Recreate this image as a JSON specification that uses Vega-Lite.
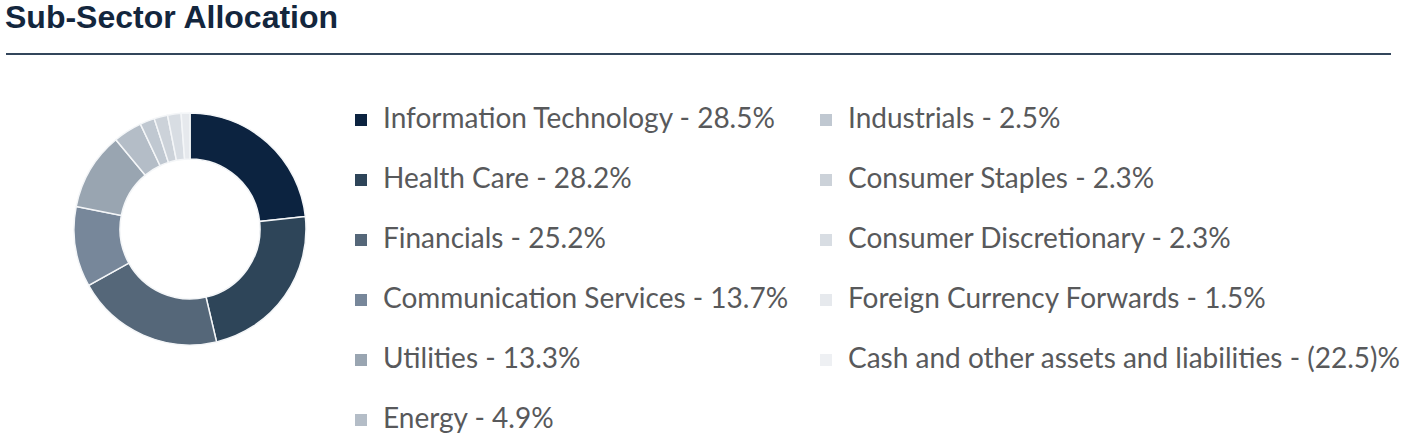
{
  "$schema": "https://vega.github.io/schema/vega-lite/v6.json",
  "padding": {"left": 5, "top": 2, "right": 0, "bottom": 0},
  "background": "white",
  "title": {
    "text": "Sub-Sector Allocation",
    "anchor": "start",
    "font": "Liberation Sans",
    "fontSize": 32,
    "fontWeight": "bold",
    "color": "#13263d",
    "offset": 18
  },
  "config": {
    "view": {"stroke": null},
    "concat": {"spacing": 20}
  },
  "vconcat": [
    {
      "width": 1385,
      "height": 0,
      "data": {"values": [{}]},
      "mark": {"type": "rule", "color": "#33465b", "strokeWidth": 2},
      "encoding": {"y": {"value": 0}}
    },
    {
      "width": 368,
      "height": 270,
      "data": {
        "values": [
          {"sector": "Information Technology", "weight": 28.5, "label": "Information Technology - 28.5%"},
          {"sector": "Health Care", "weight": 28.2, "label": "Health Care - 28.2%"},
          {"sector": "Financials", "weight": 25.2, "label": "Financials - 25.2%"},
          {"sector": "Communication Services", "weight": 13.7, "label": "Communication Services - 13.7%"},
          {"sector": "Utilities", "weight": 13.3, "label": "Utilities - 13.3%"},
          {"sector": "Energy", "weight": 4.9, "label": "Energy - 4.9%"},
          {"sector": "Industrials", "weight": 2.5, "label": "Industrials - 2.5%"},
          {"sector": "Consumer Staples", "weight": 2.3, "label": "Consumer Staples - 2.3%"},
          {"sector": "Consumer Discretionary", "weight": 2.3, "label": "Consumer Discretionary - 2.3%"},
          {"sector": "Foreign Currency Forwards", "weight": 1.5, "label": "Foreign Currency Forwards - 1.5%"},
          {"sector": "Cash and other assets and liabilities", "weight": -22.5, "label": "Cash and other assets and liabilities - (22.5)%"}
        ]
      },
      "transform": [{"filter": "datum.weight > 0"}],
      "mark": {"type": "arc", "outerRadius": 116, "innerRadius": 70, "stroke": "#f4f6f8", "strokeWidth": 1.5},
      "encoding": {
        "theta": {"field": "weight", "type": "quantitative", "stack": true},
        "order": {"field": "weight", "sort": "descending"},
        "color": {
          "field": "label",
          "type": "nominal",
          "scale": {
            "domain": [
              "Information Technology - 28.5%",
              "Health Care - 28.2%",
              "Financials - 25.2%",
              "Communication Services - 13.7%",
              "Utilities - 13.3%",
              "Energy - 4.9%",
              "Industrials - 2.5%",
              "Consumer Staples - 2.3%",
              "Consumer Discretionary - 2.3%",
              "Foreign Currency Forwards - 1.5%",
              "Cash and other assets and liabilities - (22.5)%"
            ],
            "range": [
              "#0c2340",
              "#2e4559",
              "#556779",
              "#77879a",
              "#99a5b1",
              "#b4bdc7",
              "#c0c8d1",
              "#ccd2d9",
              "#d8dde3",
              "#e6e9ed",
              "#eef0f3"
            ]
          },
          "legend": {
            "title": null,
            "orient": "none",
            "legendX": 341,
            "legendY": 52,
            "columns": 2,
            "padding": 0,
            "symbolType": "square",
            "symbolSize": 144,
            "symbolStrokeWidth": 0,
            "labelFont": "Lato",
            "labelFontSize": 28,
            "labelColor": "#58595b",
            "labelLimit": 1000,
            "labelOffset": 8,
            "rowPadding": 32,
            "columnPadding": 23
          }
        }
      }
    }
  ]
}
